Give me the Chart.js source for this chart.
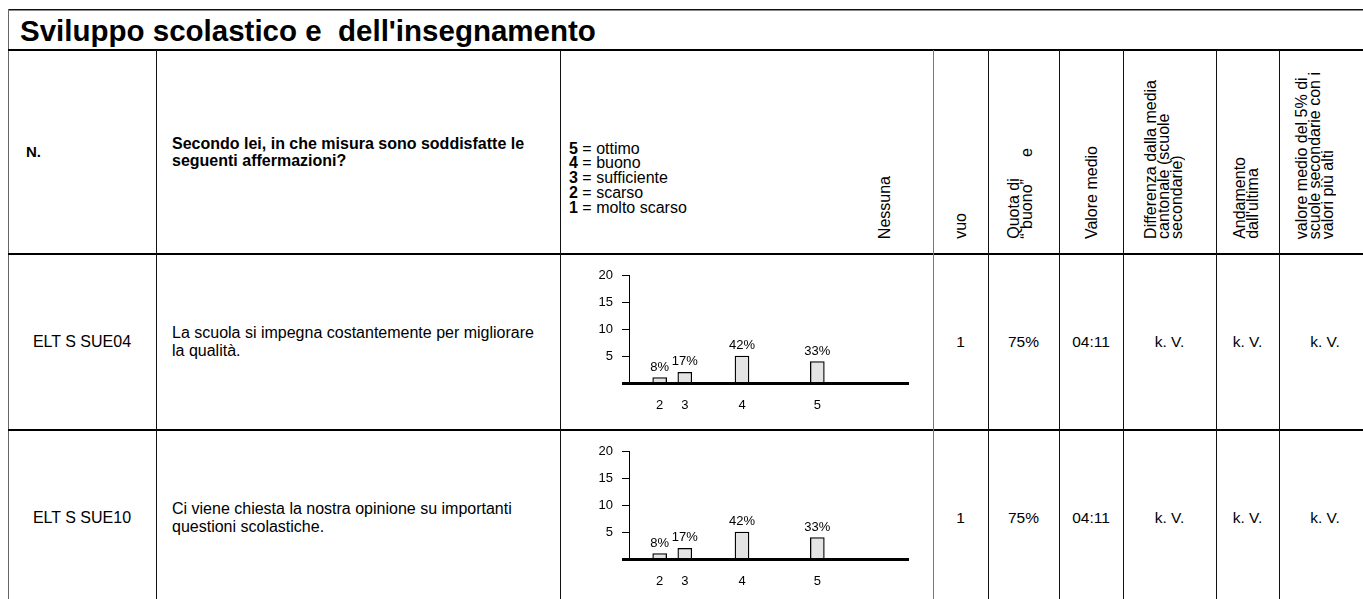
<!DOCTYPE html>
<html lang="it"><head><meta charset="utf-8">
<script src="https://cdn.jsdelivr.net/npm/chart.js@4.4.1/dist/chart.umd.min.js"></script>
<style>
html,body{margin:0;padding:0;background:#fff}
body{width:1363px;height:599px;overflow:hidden;position:relative;font-family:'Liberation Sans',Arial,sans-serif;color:#000}
.ln{position:absolute;background:#000}
.tx{position:absolute;white-space:pre;font-size:16px;line-height:18px}
.vt{position:absolute;writing-mode:vertical-rl;transform:rotate(180deg);white-space:pre;font-size:16px;line-height:13px}
.cell{position:absolute;display:flex;align-items:center;font-size:16px;line-height:18px;white-space:pre}
.ctr{justify-content:center;text-align:center}
.cw{position:absolute}
</style></head><body>
<script>
const title = "Sviluppo scolastico e  dell'insegnamento";
const headerN = 'N.';
const headerQuestion = ['Secondo lei, in che misura sono soddisfatte le', 'seguenti affermazioni?'];
const scaleNums = ['5', '4', '3', '2', '1'];
const scaleNames = ['ottimo', 'buono', 'sufficiente', 'scarso', 'molto scarso'];
const colHeaders = [
  ['Nessuna'],
  ['vuo'],
  ['Quota di', '\u201C buono\u201D     e'],
  ['Valore medio'],
  ['Differenza dalla media', 'cantonale (scuole', 'secondarie)'],
  ['Andamento', "dall'ultima"],
  ['valore medio del 5% di', 'scuole secondarie con i', 'valori più alti']
];
const itemCodes = ['ELT S SUE04', 'ELT S SUE10'];
const itemTexts = [
  ['La scuola si impegna costantemente per migliorare', 'la qualità.'],
  ['Ci viene chiesta la nostra opinione su importanti', 'questioni scolastiche.']
];
const ratingLabels = ['2', '3', '4', '5'];
const barSlots = [11, 20, 40.5, 67.5];
const countsSUE04 = [1, 2, 5, 4];
const countsSUE10 = [1, 2, 5, 4];
const nessuna = ['1', '1'];
const quotaBuono = ['75%', '75%'];
const valoreMedio = ['04:11', '04:11'];
const diffCantonale = ['k. V.', 'k. V.'];
const andamento = ['k. V.', 'k. V.'];
const top5 = ['k. V.', 'k. V.'];
const yMax = 20, yStep = 5;

const FONT = "'Liberation Sans', Arial, sans-serif";
const body = document.body;
function el(cls, css, html) {
  const d = document.createElement('div');
  d.className = cls;
  Object.assign(d.style, css);
  if (html !== undefined) d.innerHTML = html;
  body.appendChild(d);
  return d;
}
function esc(s){return s.replace(/&/g,'&amp;').replace(/</g,'&lt;');}
function box(html){return '<div>' + html + '</div>';}

// ---- table geometry (layout only)
const colX = [8, 156, 560, 933, 988, 1059, 1123, 1216, 1279, 1371];
const rowTops = [254, 430];
const rowH = 176;

// lines
el('ln', {left:'8px', top:'9px', width:'1355px', height:'1px', background:'#111'});
el('ln', {left:'8px', top:'10px', width:'1355px', height:'1px', background:'#888'});
el('ln', {left:'8px', top:'9px', width:'1px', height:'590px', background:'#666'});
el('ln', {left:'8px', top:'49px', width:'1355px', height:'2px'});
el('ln', {left:'8px', top:'253px', width:'1355px', height:'2px'});
el('ln', {left:'8px', top:'429px', width:'1355px', height:'2px'});
for (let i = 1; i < colX.length - 1; i++) {
  const gray = (colX[i] === 933);
  el('ln', {left: colX[i] + 'px', top:'50px', width:'1px', height:'549px', background: gray ? '#777' : '#111'});
}

// title
el('tx', {left:'20px', top:'16px', fontSize:'29.5px', lineHeight:'30px', fontWeight:'bold'}, esc(title));

// header row
el('cell', {left:'26px', top:'50px', height:'204px', fontWeight:'bold', fontSize:'15px'}, box(headerN));
el('cell', {left:'172px', top:'50px', height:'204px', fontWeight:'bold', fontSize:'16px', lineHeight:'17px'}, box(headerQuestion.map(esc).join('<br>')));
el('tx', {left:'569px', top:'141.5px', fontSize:'16px', lineHeight:'14.75px'},
  scaleNums.map((n, i) => '<b>' + n + '</b> = ' + esc(scaleNames[i])).join('<br>'));

const hdrX = [884, 960, 1013, 1091, 1150, 1239, 1301];
const vlh = 13;
colHeaders.forEach((lines, i) => {
  el('vt', {left: (hdrX[i] - vlh / 2) + 'px', bottom: (599 - 239) + 'px'}, lines.map(esc).join('<br>'));
});

// data rows
const valueCols = [nessuna, quotaBuono, valoreMedio, diffCantonale, andamento, top5];
rowTops.forEach((top, r) => {
  el('cell ctr', {left: colX[0] + 'px', top: top + 'px', width: (colX[1] - colX[0]) + 'px', height: rowH + 'px'}, box(esc(itemCodes[r])));
  el('cell', {left:'172px', top: top + 'px', height: rowH + 'px'}, box(itemTexts[r].map(esc).join('<br>')));
  valueCols.forEach((arr, c) => {
    const x0 = colX[3 + c], x1 = colX[4 + c];
    el('cell ctr', {left: x0 + 'px', top: top + 'px', width: (x1 - x0) + 'px', height: rowH + 'px', fontSize:'15.5px'}, box(esc(arr[r])));
  });
});

// ---- charts
const pctPlugin = {
  id: 'pct',
  afterDatasetsDraw(chart) {
    const ctx = chart.ctx;
    const meta = chart.getDatasetMeta(0);
    const data = chart.data.datasets[0].data;
    const total = data.reduce((a, d) => a + d.y, 0);
    ctx.save();
    ctx.fillStyle = '#000';
    ctx.font = "13px " + FONT;
    ctx.textAlign = 'center';
    ctx.textBaseline = 'alphabetic';
    meta.data.forEach((bar, i) => {
      ctx.fillText(Math.round(data[i].y / total * 100) + '%', bar.x, bar.y - 7);
    });
    ctx.restore();
  }
};

function makeChart(top, counts) {
  const wrap = el('cw', {left:'565px', top: (top + 4) + 'px', width:'360px', height:'165px'});
  const cv = document.createElement('canvas');
  cv.width = 360; cv.height = 165;
  cv.style.width = '360px'; cv.style.height = '165px';
  wrap.appendChild(cv);
  new Chart(cv, {
    type: 'bar',
    data: {
      datasets: [{
        data: counts.map((c, i) => ({x: barSlots[i], y: c})),
        backgroundColor: '#e4e4e4',
        borderColor: '#000',
        borderWidth: 1.3,
        borderSkipped: 'start',
        barThickness: 14
      }]
    },
    options: {
      responsive: false, animation: false, devicePixelRatio: 1, events: [],
      layout: {padding: {top: 17.5, right: 17, left: 0, bottom: 0}},
      plugins: {legend: {display: false}, tooltip: {enabled: false}},
      scales: {
        x: {
          type: 'linear', min: 0, max: 100, offset: false,
          afterBuildTicks: s => { s.ticks = barSlots.map(v => ({value: v})); },
          afterFit: s => { s.height = 40; },
          grid: {display: false, drawTicks: false, offset: false},
          border: {display: true, color: '#000', width: 3, z: 1},
          ticks: {autoSkip: false, maxRotation: 0, padding: 15, color: '#000',
            font: {family: FONT, size: 13}, callback: (v, i) => ratingLabels[i]}
        },
        y: {
          min: 0, max: yMax,
          afterFit: s => { s.width = 64; },
          grid: {drawOnChartArea: false, drawTicks: true, tickLength: 7, color: '#000',
            tickWidth: c => (c.tick && c.tick.value === 0) ? 3 : 1},
          border: {display: true, color: '#000', width: 1},
          ticks: {stepSize: yStep, padding: 9, color: '#000', font: {family: FONT, size: 13},
            callback: v => v === 0 ? '' : v}
        }
      }
    },
    plugins: [pctPlugin]
  });
}
makeChart(rowTops[0], countsSUE04);
makeChart(rowTops[1], countsSUE10);
</script>
</body></html>
